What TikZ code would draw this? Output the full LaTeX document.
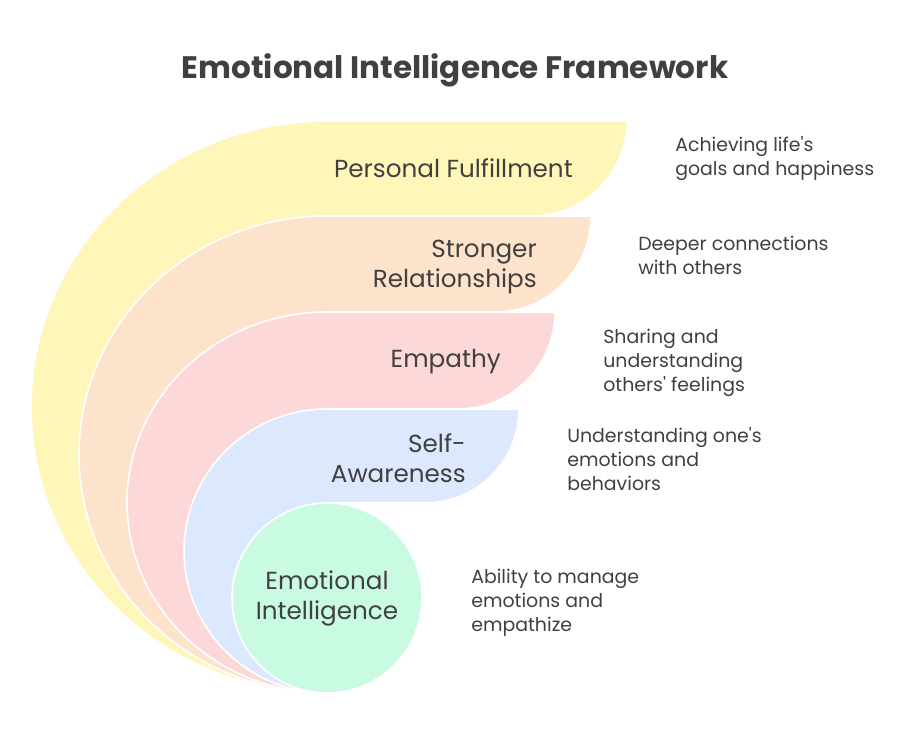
\documentclass[tikz,border=0pt]{standalone}
\usepackage{fontspec}
\setmainfont{Poppins}[Ligatures=TeXOff]
\usepackage{tikz}
\definecolor{EiYellow}{HTML}{FFF6B9}
\definecolor{EiPeach}{HTML}{FDE3CB}
\definecolor{EiPink}{HTML}{FDD8D8}
\definecolor{EiBlue}{HTML}{DCE8FD}
\definecolor{EiGreen}{HTML}{C8FBE2}
\definecolor{EiInk}{HTML}{404040}

\tikzset{
  layer/.style={fill=#1, draw=white, line width=1.2pt},
  tag/.style={font=\fontsize{18.5}{22.5}\selectfont, text=EiInk, align=right, anchor=east, inner sep=0pt},
  note/.style={font=\fontsize{14.2}{18}\selectfont, text=EiInk, align=left, anchor=west, inner sep=0pt}
}

\begin{document}
\begin{tikzpicture}[x=0.75pt, y=0.75pt]
  \useasboundingbox (0,0) rectangle (911,756);

  \node[font=\bfseries\fontsize{23.3}{28}\selectfont, text=EiInk] (title) at (455,686) {Emotional Intelligence Framework};

  % layers, outermost first
  \filldraw[layer=EiYellow] (327,63) arc[start angle=270, end angle=90, x radius=296, y radius=286]
    -- (627,635) arc[start angle=0, end angle=-90, radius=95] -- (327,540) -- (327,253)
    arc[start angle=90, end angle=-90, radius=95] -- cycle;
  \filldraw[layer=EiPeach] (327,63) arc[start angle=270, end angle=90, x radius=248, y radius=238.5]
    -- (591,540) arc[start angle=0, end angle=-90, radius=96] -- (327,444) -- (327,253)
    arc[start angle=90, end angle=-90, radius=95] -- cycle;
  \filldraw[layer=EiPink] (327,63) arc[start angle=270, end angle=90, x radius=200, y radius=190.5]
    -- (555,444) arc[start angle=0, end angle=-90, radius=97] -- (327,347) -- (327,253)
    arc[start angle=90, end angle=-90, radius=95] -- cycle;
  \filldraw[layer=EiBlue] (327,63) arc[start angle=270, end angle=90, x radius=143, y radius=142]
    -- (519,347) arc[start angle=0, end angle=-90, radius=94] -- (327,253)
    arc[start angle=90, end angle=-90, radius=95] -- cycle;
  \node[circle, fill=EiGreen, draw=white, line width=1.2pt, minimum size=142.5pt, inner sep=0pt,
        font=\fontsize{18.5}{22.5}\selectfont, text=EiInk, align=center] (core) at (327,158) {Emotional\\Intelligence};

  % layer names
  \node[tag] (fulfil) at (573,588) {Personal Fulfillment};
  \node[tag] (relate) at (537,489) {Stronger\\Relationships};
  \node[tag] (empathy) at (501,394) {Empathy};
  \node[tag] (aware) at (466,298) {Self-\\Awareness};

  % descriptions
  \node[note] (fulfil-note) at (675,597) {Achieving life's\\goals and happiness};
  \node[note] (relate-note) at (638,501) {Deeper connections\\with others};
  \node[note] (empathy-note) at (603,393) {Sharing and\\understanding\\others' feelings};
  \node[note] (aware-note) at (567,297) {Understanding one's\\emotions and\\behaviors};
  \node[note] (core-note) at (471,153) {Ability to manage\\emotions and\\empathize};
\end{tikzpicture}
\end{document}
